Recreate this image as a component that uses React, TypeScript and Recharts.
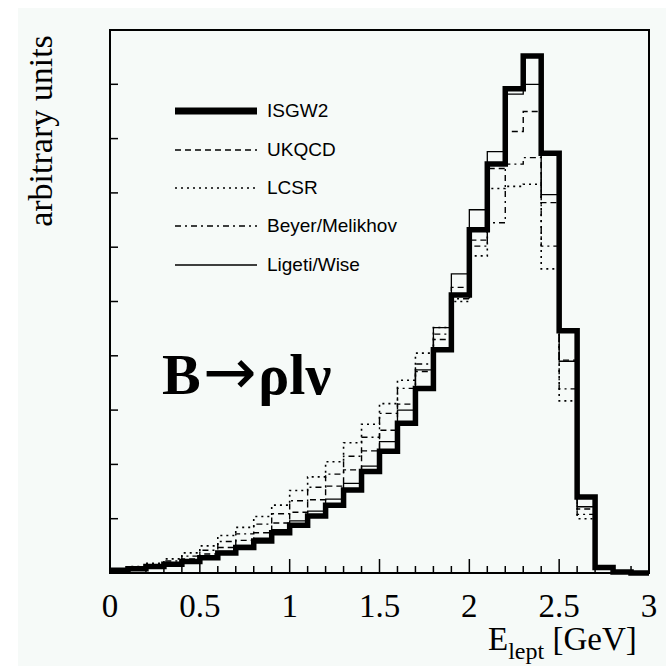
import React from 'react';
import { LineChart, Line, XAxis, YAxis, ReferenceArea } from 'recharts';

// lower edges of the 0.1 GeV bins
const binStarts = [
  0, 0.1, 0.2, 0.3, 0.4, 0.5, 0.6, 0.7, 0.8, 0.9,
  1.0, 1.1, 1.2, 1.3, 1.4, 1.5, 1.6, 1.7, 1.8, 1.9,
  2.0, 2.1, 2.2, 2.3, 2.4, 2.5, 2.6, 2.7, 2.8, 2.9,
];
const lastEdge = 3.0;

const isgw2 = [
  0.05, 0.08, 0.12, 0.16, 0.21, 0.28, 0.37, 0.47, 0.59, 0.74,
  0.88, 1.05, 1.25, 1.53, 1.87, 2.24, 2.76, 3.4, 4.11, 5.12,
  6.32, 7.53, 8.92, 9.52, 7.73, 4.46, 1.4, 0.1, 0.02, 0.0,
];
const ukqcd = [
  0.06, 0.09, 0.14, 0.19, 0.26, 0.35, 0.47, 0.6, 0.74, 0.92,
  1.12, 1.35, 1.6, 1.9, 2.25, 2.63, 3.11, 3.71, 4.3, 5.26,
  6.13, 7.45, 8.13, 8.5, 6.82, 3.92, 1.18, 0.1, 0.02, 0.0,
];
const lcsr = [
  0.07, 0.12, 0.18, 0.26, 0.37, 0.5, 0.69, 0.84, 1.04, 1.25,
  1.52, 1.77, 2.05, 2.4, 2.74, 3.12, 3.55, 4.05, 4.52, 5.0,
  5.84, 7.08, 7.12, 7.16, 5.6, 3.17, 1.0, 0.08, 0.02, 0.0,
];
const beyer = [
  0.06, 0.1, 0.15, 0.22, 0.31, 0.42, 0.58, 0.72, 0.9, 1.09,
  1.33, 1.58, 1.82, 2.15, 2.5, 2.94, 3.4, 3.85, 4.4, 5.05,
  6.02, 6.45, 7.53, 7.65, 6.02, 3.39, 1.08, 0.08, 0.02, 0.0,
];
const ligeti = [
  0.06, 0.09, 0.13, 0.17, 0.23, 0.3, 0.4, 0.51, 0.64, 0.8,
  0.96, 1.14, 1.36, 1.65, 1.97, 2.42, 3.0, 3.74, 4.52, 5.51,
  6.69, 7.76, 8.82, 9.0, 6.97, 3.9, 1.22, 0.12, 0.02, 0.0,
];

const xTicks = [
  0, 0.1, 0.2, 0.3, 0.4, 0.5, 0.6, 0.7, 0.8, 0.9,
  1.0, 1.1, 1.2, 1.3, 1.4, 1.5, 1.6, 1.7, 1.8, 1.9,
  2.0, 2.1, 2.2, 2.3, 2.4, 2.5, 2.6, 2.7, 2.8, 2.9, 3.0,
];
const xLabels = ['0', '0.5', '1', '1.5', '2', '2.5', '3'];
const yTicks = [1, 2, 3, 4, 5, 6, 7, 8, 9];

const SERIES = [
  { key: 'ligeti', name: 'Ligeti/Wise', width: 1.3, dash: undefined },
  { key: 'beyer', name: 'Beyer/Melikhov', width: 1.4, dash: '6 4 2 4' },
  { key: 'lcsr', name: 'LCSR', width: 1.6, dash: '2 4' },
  { key: 'ukqcd', name: 'UKQCD', width: 1.4, dash: '6 4' },
  { key: 'isgw2', name: 'ISGW2', width: 5.5, dash: undefined },
];
const LEGEND_ORDER = ['isgw2', 'ukqcd', 'lcsr', 'beyer', 'ligeti'];

// step lines need one extra point at the upper edge of the last bin
const data = [...binStarts, lastEdge].map((x, i) => {
  const j = Math.min(i, binStarts.length - 1);
  return {
    x,
    isgw2: isgw2[j],
    ukqcd: ukqcd[j],
    lcsr: lcsr[j],
    beyer: beyer[j],
    ligeti: ligeti[j],
  };
});

const SERIF = '"Liberation Serif", "DejaVu Serif", serif';
const SANS = '"Liberation Sans", Arial, sans-serif';

function XTick(props: any) {
  const { x, y, payload } = props;
  const half = payload.value * 2;
  const major = Math.abs(half - Math.round(half)) < 1e-6;
  return (
    <g>
      <line x1={x} x2={x} y1={y} y2={y - (major ? 14 : 7)} stroke="#000" strokeWidth={1.5} />
      {major && (
        <text x={x} y={y + 44} textAnchor="middle" fontFamily={SERIF} fontSize={33} fill="#000">
          {xLabels[Math.round(half)]}
        </text>
      )}
    </g>
  );
}

function YTick(props: any) {
  const { x, y } = props;
  return <line x1={x} x2={x + 8} y1={y} y2={y} stroke="#000" strokeWidth={1.5} />;
}

function LegendBox() {
  return (
    <div style={{ position: 'absolute', left: 175, top: 92 }}>
      {LEGEND_ORDER.map((k) => {
        const s = SERIES.find((e) => e.key === k)!;
        return (
          <div key={k} style={{ display: 'flex', alignItems: 'center', height: 38.4 }}>
            <svg width={82} height={12}>
              <line
                x1={0}
                x2={82}
                y1={6}
                y2={6}
                stroke="#000"
                strokeWidth={k === 'isgw2' ? 7 : s.width}
                strokeDasharray={s.dash}
              />
            </svg>
            <span style={{ marginLeft: 10, fontFamily: SANS, fontSize: 19, color: '#000' }}>{s.name}</span>
          </div>
        );
      })}
    </div>
  );
}

export default function App() {
  return (
    <div style={{ position: 'absolute', left: 0, top: 0, width: 666, height: 666, background: '#fff' }}>
      <div style={{ position: 'absolute', left: 18, top: 8, right: 0, bottom: 0, background: '#f6faf8' }} />
      <div style={{ position: 'absolute', left: 0, top: 0 }}>
        <LineChart width={666} height={666} data={data} margin={{ top: 30, right: 17, left: 0, bottom: 0 }}>
          <XAxis
            type="number"
            dataKey="x"
            domain={[0, 3]}
            ticks={xTicks}
            interval={0}
            height={93}
            tickSize={0}
            tickMargin={0}
            tick={<XTick />}
            axisLine={{ stroke: '#000', strokeWidth: 2 }}
            tickLine={false}
          />
          <YAxis
            type="number"
            domain={[0, 10]}
            ticks={yTicks}
            interval={0}
            width={110}
            tickSize={0}
            tickMargin={0}
            tick={<YTick />}
            axisLine={{ stroke: '#000', strokeWidth: 2 }}
            tickLine={false}
          />
          <ReferenceArea x1={0} x2={3} y1={0} y2={10} fill="none" stroke="#000" strokeWidth={2} />
          {SERIES.map((s) => (
            <Line
              key={s.key}
              type="stepAfter"
              dataKey={s.key}
              name={s.name}
              stroke="#000"
              strokeWidth={s.width}
              strokeDasharray={s.dash}
              strokeLinejoin="miter"
              dot={false}
              activeDot={false}
              isAnimationActive={false}
            />
          ))}
        </LineChart>
      </div>
      <LegendBox />
      <div
        style={{
          position: 'absolute',
          left: 41,
          top: 131,
          transform: 'translate(-50%, -50%) rotate(-90deg)',
          whiteSpace: 'nowrap',
          fontFamily: SERIF,
          fontSize: 34,
          lineHeight: 1,
          color: '#000',
        }}
      >
        arbitrary units
      </div>
      <div
        style={{
          position: 'absolute',
          left: 162,
          top: 340,
          whiteSpace: 'nowrap',
          fontFamily: SERIF,
          fontWeight: 'bold',
          fontSize: 58,
          lineHeight: 1,
          color: '#000',
          display: 'flex',
          alignItems: 'baseline',
        }}
      >
        <span>B</span>
        <span style={{ fontFamily: '"DejaVu Sans", sans-serif', fontWeight: 'normal', fontSize: 64, margin: '0 2px 0 2px' }}>
          →
        </span>
        <span>ρlν</span>
      </div>
      <div
        style={{
          position: 'absolute',
          left: 488,
          top: 623,
          whiteSpace: 'nowrap',
          fontFamily: SERIF,
          fontSize: 33,
          lineHeight: 1,
          color: '#000',
        }}
      >
        E
        <span style={{ fontSize: 24, position: 'relative', top: 9 }}>lept</span> [GeV]
      </div>
    </div>
  );
}
